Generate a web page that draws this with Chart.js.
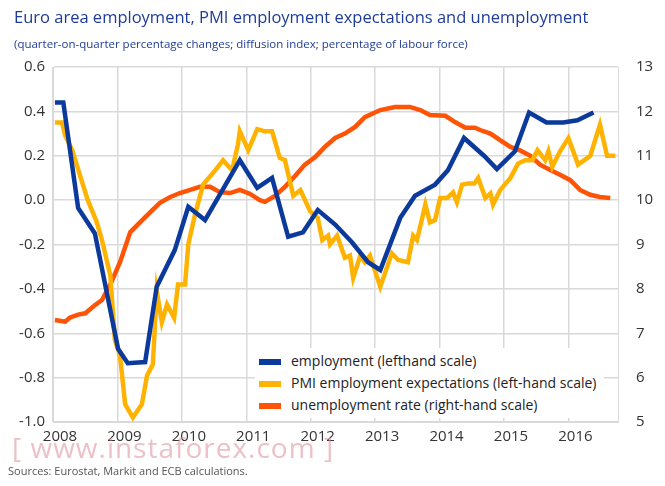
<!DOCTYPE html>
<html>
<head>
<meta charset="utf-8">
<script src="https://cdn.jsdelivr.net/npm/chart.js@4/dist/chart.umd.min.js"></script>
<style>
  body { margin: 0; background: #fff; font-family: "Open Sans", sans-serif; }
  #wrap { position: relative; width: 665px; height: 486px; }
  #title { position: absolute; left: 14px; top: 5px; font-size: 16.5px; color: #1e3c96; }
  #subtitle { position: absolute; left: 14px; top: 36px; font-size: 11.5px; color: #1e3c96; }
  #source { position: absolute; left: 8px; top: 463px; font-size: 11px; color: #555; }
  #mark { position: absolute; left: 12px; top: 428px; font-size: 28px; color: rgba(220,140,150,0.55); letter-spacing: 1px; }
  #legend { position: absolute; left: 255px; top: 348px; background: #fff; padding: 2px 8px 2px 4px; font-size: 14px; color: #222; line-height: 22px; }
  #legend span { display: inline-block; width: 22px; height: 6px; margin-right: 10px; vertical-align: middle; }
</style>
</head>
<body>
<div id="wrap">
  <canvas id="chart" width="665" height="486"></canvas>
  <div id="title">Euro area employment, PMI employment expectations and unemployment</div>
  <div id="subtitle">(quarter-on-quarter percentage changes; diffusion index; percentage of labour force)</div>
  <div id="legend"></div>
  <div id="mark">[ www.instaforex.com ]</div>
  <div id="source">Sources: Eurostat, Markit and ECB calculations.</div>
</div>
<script>
// employment (left scale), quarterly
const empYears = [2008.03, 2008.16, 2008.39, 2008.65, 2009.01, 2009.16, 2009.43, 2009.61, 2009.89, 2010.10, 2010.36, 2010.90, 2011.17, 2011.40, 2011.65, 2011.88, 2012.11, 2012.38, 2012.64, 2012.89, 2013.08, 2013.39, 2013.62, 2013.93, 2014.13, 2014.38, 2014.69, 2014.89, 2015.17, 2015.39, 2015.66, 2015.92, 2016.14, 2016.39];
const empValues = [0.44, 0.44, -0.035, -0.15, -0.67, -0.735, -0.73, -0.39, -0.225, -0.03, -0.09, 0.18, 0.055, 0.10, -0.165, -0.145, -0.045, -0.11, -0.19, -0.28, -0.315, -0.08, 0.02, 0.07, 0.135, 0.28, 0.20, 0.14, 0.22, 0.395, 0.35, 0.35, 0.36, 0.395];

// PMI employment expectations (left scale)
const pmiYears = [2008.03, 2008.14, 2008.19, 2008.30, 2008.42, 2008.54, 2008.68, 2008.76, 2008.89, 2008.96, 2009.04, 2009.12, 2009.24, 2009.38, 2009.46, 2009.55, 2009.61, 2009.69, 2009.77, 2009.88, 2009.94, 2010.05, 2010.10, 2010.20, 2010.33, 2010.52, 2010.64, 2010.78, 2010.87, 2010.90, 2011.03, 2011.17, 2011.29, 2011.40, 2011.52, 2011.60, 2011.73, 2011.84, 2011.99, 2012.11, 2012.18, 2012.27, 2012.30, 2012.41, 2012.53, 2012.61, 2012.66, 2012.77, 2012.84, 2012.92, 2013.08, 2013.26, 2013.36, 2013.51, 2013.59, 2013.65, 2013.78, 2013.85, 2013.93, 2014.01, 2014.12, 2014.21, 2014.27, 2014.35, 2014.44, 2014.54, 2014.60, 2014.71, 2014.79, 2014.83, 2014.94, 2015.10, 2015.22, 2015.33, 2015.44, 2015.52, 2015.64, 2015.69, 2015.75, 2015.87, 2016.00, 2016.15, 2016.34, 2016.49, 2016.60, 2016.73];
const pmiValues = [0.35, 0.35, 0.29, 0.225, 0.11, 0.0, -0.1, -0.18, -0.34, -0.63, -0.70, -0.92, -0.98, -0.92, -0.79, -0.74, -0.41, -0.55, -0.47, -0.53, -0.38, -0.38, -0.20, -0.07, 0.07, 0.135, 0.18, 0.135, 0.25, 0.31, 0.225, 0.32, 0.31, 0.31, 0.19, 0.18, 0.02, 0.045, -0.05, -0.08, -0.18, -0.16, -0.20, -0.16, -0.26, -0.25, -0.35, -0.25, -0.28, -0.25, -0.39, -0.24, -0.27, -0.28, -0.16, -0.18, -0.02, -0.10, -0.09, 0.01, 0.01, 0.035, -0.01, 0.07, 0.075, 0.075, 0.10, 0.01, 0.03, -0.02, 0.045, 0.10, 0.165, 0.18, 0.18, 0.225, 0.18, 0.22, 0.15, 0.22, 0.28, 0.16, 0.20, 0.34, 0.20, 0.20];

// unemployment rate (right scale)
const unempYears = [2008.03, 2008.19, 2008.26, 2008.39, 2008.50, 2008.65, 2008.76, 2008.89, 2009.04, 2009.20, 2009.35, 2009.51, 2009.66, 2009.82, 2009.97, 2010.13, 2010.28, 2010.44, 2010.59, 2010.75, 2010.90, 2011.06, 2011.21, 2011.29, 2011.45, 2011.60, 2011.76, 2011.91, 2012.07, 2012.22, 2012.38, 2012.53, 2012.69, 2012.84, 2013.08, 2013.31, 2013.54, 2013.70, 2013.85, 2014.09, 2014.24, 2014.40, 2014.55, 2014.63, 2014.79, 2014.94, 2015.10, 2015.25, 2015.41, 2015.56, 2015.72, 2015.87, 2016.03, 2016.18, 2016.34, 2016.49, 2016.65];
const unempValues = [7.30, 7.26, 7.35, 7.42, 7.45, 7.63, 7.75, 8.10, 8.60, 9.28, 9.50, 9.73, 9.94, 10.07, 10.16, 10.23, 10.30, 10.30, 10.18, 10.16, 10.23, 10.14, 10.00, 9.96, 10.10, 10.30, 10.55, 10.80, 10.97, 11.20, 11.40, 11.50, 11.65, 11.87, 12.03, 12.10, 12.10, 12.03, 11.92, 11.90, 11.76, 11.63, 11.63, 11.58, 11.50, 11.35, 11.20, 11.12, 11.00, 10.80, 10.68, 10.57, 10.45, 10.23, 10.12, 10.07, 10.05];

const leftTicks = [-1.0, -0.8, -0.6, -0.4, -0.2, 0.0, 0.2, 0.4, 0.6];

const series = [
    { label: 'employment (lefthand scale)', years: empYears, values: empValues, color: '#0b3a9c', axis: 'y' },
    { label: 'PMI employment expectations (left-hand scale)', years: pmiYears, values: pmiValues, color: '#ffb300', axis: 'y' },
    { label: 'unemployment rate (right-hand scale)', years: unempYears, values: unempValues, color: '#ff5306', axis: 'y2' }
];

const tickFont = { family: 'Open Sans', size: 15 };

new Chart(document.getElementById('chart'), {
    type: 'line',
    data: {
        datasets: series.map(s => ({
            label: s.label,
            data: s.years.map((x, i) => ({ x, y: s.values[i] })),
            borderColor: s.color,
            borderWidth: 4.5,
            pointRadius: 0,
            tension: 0,
            yAxisID: s.axis,
        }))
    },
    options: {
        responsive: false,
        animation: false,
        layout: { padding: { top: 67, left: 0, right: 0, bottom: 0 } },
        plugins: { legend: { display: false }, tooltip: { enabled: false } },
        scales: {
            x: {
                type: 'linear',
                min: 2008,
                max: 2016.77,
                afterBuildTicks: axis => {
                    axis.ticks = [2008, 2009, 2010, 2011, 2012, 2013, 2014, 2015, 2016].map(v => ({ value: v }));
                },
                afterFit: axis => { axis.height = 64; },
                grid: { color: '#d9d9d9', lineWidth: 1.5, drawTicks: false },
                border: { color: '#d9d9d9' },
                ticks: { font: tickFont, color: '#333', padding: 6, labelOffset: 7, callback: v => String(v) }
            },
            y: {
                position: 'left',
                min: -1.0,
                max: 0.6,
                afterBuildTicks: axis => { axis.ticks = leftTicks.map(v => ({ value: v })); },
                afterFit: axis => { axis.width = 53; },
                grid: { color: '#d9d9d9', lineWidth: 1.5, drawTicks: false },
                border: { color: '#d9d9d9' },
                ticks: { font: tickFont, color: '#333', padding: 8, callback: v => v.toFixed(1) }
            },
            y2: {
                position: 'right',
                min: 5,
                max: 13,
                afterFit: axis => { axis.width = 47; },
                grid: { display: false },
                border: { color: '#d9d9d9' },
                ticks: { font: tickFont, color: '#333', padding: 10, stepSize: 1 }
            }
        }
    }
});

document.getElementById('legend').innerHTML = series
    .map(s => `<div><span style="background:${s.color}"></span>${s.label}</div>`)
    .join('');
</script>
</body>
</html>
